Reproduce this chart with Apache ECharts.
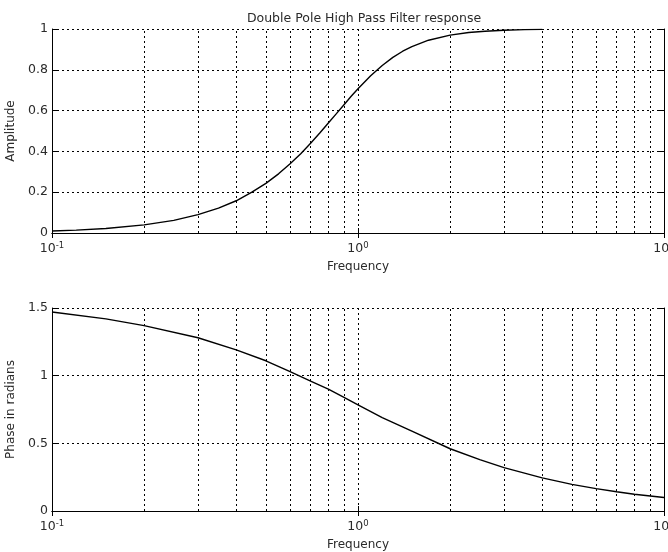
<!DOCTYPE html>
<html>
<head>
<meta charset="utf-8">
<script src="https://cdn.jsdelivr.net/npm/echarts@6/dist/echarts.min.js"></script>
<style>
  html, body { margin: 0; padding: 0; background: #fff; }
  #chart { width: 668px; height: 552px; }
</style>
</head>
<body>
<div id="chart"></div>
<script>
// amplitude curve
const ampFreq = [0.1, 0.12, 0.15, 0.2, 0.25, 0.3, 0.35, 0.4, 0.45, 0.5, 0.55, 0.6, 0.65, 0.7, 0.75,
  0.8, 0.85, 0.9, 0.95, 1, 1.1, 1.2, 1.3, 1.4, 1.5, 1.7, 2, 2.3, 2.6, 3, 3.5, 4];
const ampValues = [0.01, 0.014, 0.022, 0.04, 0.062, 0.09, 0.122, 0.158, 0.2, 0.243, 0.29, 0.339, 0.389, 0.44, 0.49,
  0.539, 0.585, 0.629, 0.67, 0.707, 0.771, 0.821, 0.861, 0.891, 0.914, 0.945, 0.97, 0.983, 0.989, 0.994, 0.997, 0.998];

// phase curve
const phaseFreq = [0.1, 0.15, 0.2, 0.3, 0.4, 0.5, 0.6, 0.7, 0.8, 0.9, 1, 1.2, 1.5, 2, 2.5, 3, 4, 5, 6, 7, 8, 10];
const phaseValues = [1.47, 1.42, 1.37, 1.28, 1.19, 1.11, 1.03, 0.96, 0.9, 0.84, 0.785, 0.69, 0.59, 0.46, 0.38,
  0.32, 0.245, 0.197, 0.165, 0.142, 0.124, 0.1];

// minor decade lines drawn dotted like the major grid
const minorFreq = [0.2, 0.3, 0.4, 0.5, 0.6, 0.7, 0.8, 0.9, 2, 3, 4, 5, 6, 7, 8, 9];

const font = 'DejaVu Sans, Verdana, sans-serif';
const textColor = '#2a2a2a';
const gridDots = { color: '#000', width: 1, type: [2, 3] };

function logLabel(v) {
  const e = Math.round(Math.log10(v));
  return '{b|10}{s|' + e + '}';
}

function bottomAxis(gridIndex) {
  return {
    type: 'log', logBase: 10, min: 0.1, max: 10, gridIndex: gridIndex,
    name: 'Frequency', nameLocation: 'middle', nameGap: 28,
    nameTextStyle: { color: textColor, fontSize: 12, fontFamily: font },
    axisLine: { show: true, lineStyle: { color: '#000', width: 1 } },
    axisTick: { show: true, inside: true, length: 5, lineStyle: { color: '#000' } },
    axisLabel: {
      margin: 8, formatter: logLabel, hideOverlap: false,
      rich: {
        b: { fontSize: 12.5, fontFamily: font, color: textColor, lineHeight: 16 },
        s: { fontSize: 8.5, fontFamily: font, color: textColor, verticalAlign: 'top', lineHeight: 10 }
      }
    },
    splitLine: { show: true, lineStyle: gridDots }
  };
}

function topAxis(gridIndex) {
  return {
    type: 'log', logBase: 10, min: 0.1, max: 10, gridIndex: gridIndex, position: 'top',
    axisLine: { show: true, lineStyle: { color: '#000', width: 1 } },
    axisTick: { show: true, inside: true, length: 5, lineStyle: { color: '#000' } },
    axisLabel: { show: false },
    splitLine: { show: false }
  };
}

function leftAxis(gridIndex, max, interval, name) {
  return {
    type: 'value', min: 0, max: max, interval: interval, gridIndex: gridIndex,
    name: name, nameLocation: 'middle', nameGap: 30,
    nameTextStyle: { color: textColor, fontSize: 12, fontFamily: font },
    axisLine: { show: true, lineStyle: { color: '#000', width: 1 } },
    axisTick: { show: true, inside: true, length: 5, lineStyle: { color: '#000' } },
    axisLabel: { color: textColor, fontSize: 12.5, fontFamily: font, margin: 4 },
    splitLine: { show: true, lineStyle: gridDots }
  };
}

function rightAxis(gridIndex, max, interval) {
  return {
    type: 'value', min: 0, max: max, interval: interval, gridIndex: gridIndex, position: 'right',
    axisLine: { show: true, lineStyle: { color: '#000', width: 1 } },
    axisTick: { show: true, inside: true, length: 5, lineStyle: { color: '#000' } },
    axisLabel: { show: false },
    splitLine: { show: false }
  };
}

function minorLines() {
  return {
    silent: true, symbol: ['none', 'none'], animation: false,
    label: { show: false },
    lineStyle: gridDots,
    emphasis: { disabled: true },
    data: minorFreq.map(v => ({ xAxis: v }))
  };
}

const option = {
  animation: false,
  backgroundColor: '#fff',
  title: {
    text: 'Double Pole High Pass Filter response',
    left: 359, top: 7, textAlign: 'center',
    textStyle: { color: textColor, fontSize: 12.5, fontWeight: 'normal', fontFamily: font }
  },
  grid: [
    { left: 52, right: 4, top: 29, height: 204, outerBoundsMode: 'none', containLabel: false },
    { left: 52, right: 4, top: 308, height: 203, outerBoundsMode: 'none', containLabel: false }
  ],
  xAxis: [bottomAxis(0), topAxis(0), bottomAxis(1), topAxis(1)],
  yAxis: [
    leftAxis(0, 1, 0.2, 'Amplitude'), rightAxis(0, 1, 0.2),
    leftAxis(1, 1.5, 0.5, 'Phase in radians'), rightAxis(1, 1.5, 0.5)
  ],
  series: [
    {
      type: 'line', xAxisIndex: 0, yAxisIndex: 0, showSymbol: false, smooth: false,
      lineStyle: { color: '#000', width: 1.4 },
      data: ampFreq.map((f, i) => [f, ampValues[i]]),
      markLine: minorLines()
    },
    {
      type: 'line', xAxisIndex: 2, yAxisIndex: 2, showSymbol: false, smooth: false,
      lineStyle: { color: '#000', width: 1.4 },
      data: phaseFreq.map((f, i) => [f, phaseValues[i]]),
      markLine: minorLines()
    }
  ]
};

const chart = echarts.init(document.getElementById('chart'));
chart.setOption(option);
</script>
</body>
</html>
